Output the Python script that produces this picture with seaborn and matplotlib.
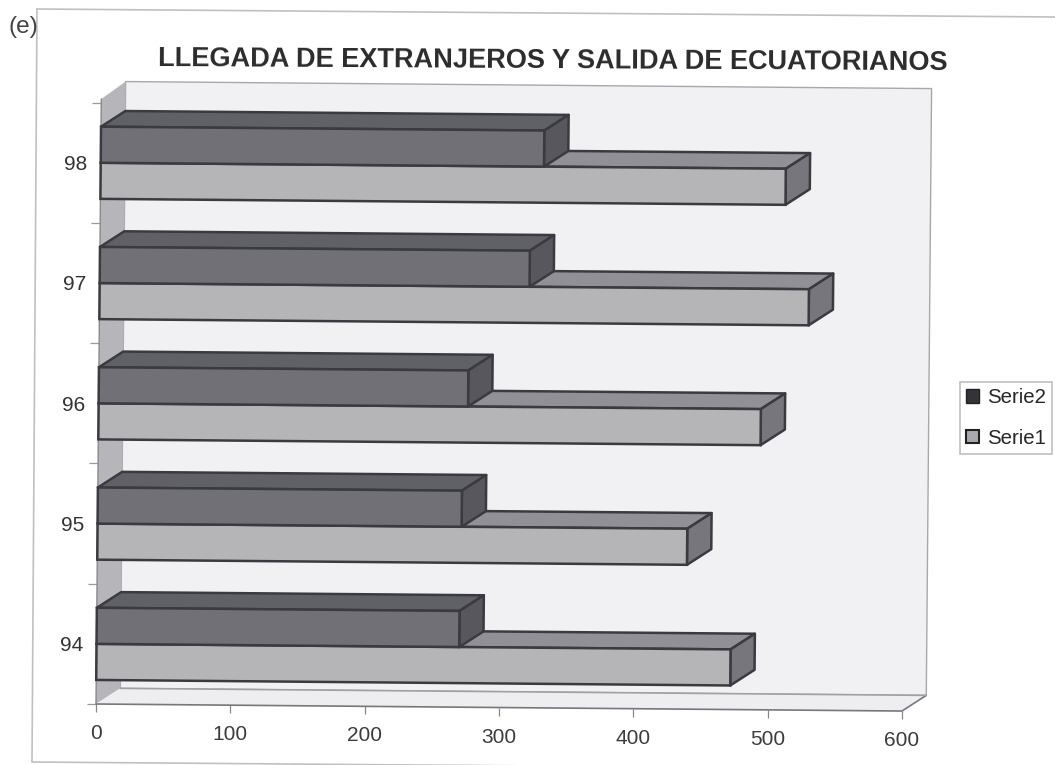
import matplotlib
matplotlib.use("Agg")
import matplotlib.pyplot as plt
import numpy as np
import pandas as pd
import seaborn as sns
from matplotlib.lines import Line2D
from matplotlib.patches import Patch, Polygon
from matplotlib.transforms import Affine2D, IdentityTransform

# data
years = ["94", "95", "96", "97", "98"]
serie1 = [472, 439, 493, 528, 510]
serie2 = [270, 271, 275, 320, 330]
x_ticks = [0, 100, 200, 300, 400, 500, 600]

W, H = 1055, 765
TILT = -0.5          # the scan is slightly rotated
DX, DY = 18, 0.132   # 3d depth, in data units

FRONT = {"Serie1": "#b4b4b9", "Serie2": "#6f6f77"}
TOP = {"Serie1": "#909096", "Serie2": "#606067"}
SIDE = {"Serie1": "#76767c", "Serie2": "#57575d"}
EDGE = "#3a3a40"

sns.set_theme(style="white")
plt.rcParams["font.family"] = ["Liberation Sans", "DejaVu Sans"]

df = pd.DataFrame({
    "year": years * 2,
    "value": serie1 + serie2,
    "serie": ["Serie1"] * len(years) + ["Serie2"] * len(years),
})

fig = plt.figure(figsize=(W / 100, H / 100), dpi=100, facecolor="white")
ax = fig.add_axes([96 / W, (H - 704) / H, 806 / W, 605 / H])
ax.patch.set_visible(False)

sns.barplot(data=df, y="year", x="value", hue="serie", order=years,
            hue_order=["Serie1", "Serie2"], orient="h", width=0.6, gap=0,
            palette=FRONT, edgecolor=EDGE, linewidth=1.8, legend=False, ax=ax)
y0, y1 = -0.5, 4.53
ax.set_xlim(0, 600)
ax.set_ylim(y0, y1)
ax.set_xlabel("")
ax.set_ylabel("")
sns.despine(ax=ax, left=True, bottom=True)

rot = Affine2D().rotate_deg_around(96, H - 704, TILT)
tr = ax.transData + rot


def face(pts, fc, ec, lw, z):
    ax.add_patch(Polygon(pts, closed=True, facecolor=fc, edgecolor=ec, linewidth=lw,
                         joinstyle="round", transform=tr, clip_on=False, zorder=z))


# walls and floor
wall_top = y1 + DY + 0.015
face([(DX, y0 + DY), (600 + DX, y0 + DY), (600 + DX, wall_top), (DX, wall_top)],
     "#f1f1f4", "#a8a8ac", 1.0, 0.5)
face([(0, y0), (DX, y0 + DY), (DX, wall_top), (0, y1)], "#b6b6ba", "none", 0, 0.6)
face([(0, y0), (600, y0), (600 + DX, y0 + DY), (DX, y0 + DY)], "#eeeef1", "none", 0, 0.6)
ax.plot([0, 600, 600 + DX], [y0, y0, y0 + DY], color="#77777c", lw=1.2,
        transform=tr, clip_on=False, zorder=0.7)
ax.plot([DX, 600 + DX], [y0 + DY, y0 + DY], color="#a0a0a5", lw=1.2,
        transform=tr, clip_on=False, zorder=0.7)

# upper bars go behind lower ones, Serie2 sits over the top of Serie1
for s, container in zip(["Serie1", "Serie2"], ax.containers):
    for i, bar in enumerate(container):
        z = 100 - i * 10 + (5 if s == "Serie2" else 0)
        x1 = bar.get_width()
        b, t = bar.get_y(), bar.get_y() + bar.get_height()
        face([(0, t), (x1, t), (x1 + DX, t + DY), (DX, t + DY)], TOP[s], EDGE, 1.8, z)
        face([(x1, b), (x1 + DX, b + DY), (x1 + DX, t + DY), (x1, t)], SIDE[s], EDGE, 1.8, z)
        bar.set_transform(tr)
        bar.set_clip_on(False)
        bar.set_zorder(z + 1)

# axes ticks
ax.set_xticks(x_ticks)
ax.set_yticks(range(len(years)), years)
ax.set_yticks(np.arange(-0.5, 5), minor=True)
ax.tick_params(axis="x", which="major", bottom=True, length=5.5, width=0.9, color="#888888",
               labelsize=15, labelcolor="#3c3c3c", pad=9)
ax.tick_params(axis="y", which="major", left=False, labelsize=15, labelcolor="#333333", pad=3.5)
ax.tick_params(axis="y", which="minor", left=True, length=6.5, width=0.9, color="#999999")
ax.plot([0, 0], [y0, y1], color="#88888c", lw=1.0, transform=tr, clip_on=False, zorder=0.8)

for axis in (ax.xaxis, ax.yaxis):
    for tick in axis.get_major_ticks() + axis.get_minor_ticks():
        tick.tick1line.set_transform(tick.tick1line.get_transform() + rot)
        tick.label1.set_transform(tick.label1.get_transform() + rot)

# legend
handles = [Patch(facecolor="#333338", edgecolor="#222222", label="Serie2"),
           Patch(facecolor="#a8a8ae", edgecolor="#222222", linewidth=1.5, label="Serie1")]
leg = ax.legend(handles=handles, loc="center left", ncol=1,
                bbox_to_anchor=(960 / W, (H - 418) / H), bbox_transform=fig.transFigure,
                fontsize=14.7, frameon=True, fancybox=False, edgecolor="#b0b0b0",
                handlelength=0.65, handleheight=0.65, handletextpad=0.35,
                labelspacing=1.05, borderpad=0.3, borderaxespad=0)
leg.get_frame().set_linewidth(1.2)
leg.set_zorder(500)

# title, panel letter and the page frame
page = IdentityTransform()
fig.text(553, H - 61, "LLEGADA DE EXTRANJEROS Y SALIDA DE ECUATORIANOS", transform=page,
         fontsize=19.5, fontweight="bold", color="#2b2b2b", ha="center", va="center",
         rotation=-0.3, rotation_mode="anchor")
fig.text(8, H - 27, "(e)", transform=page, fontsize=17.6, color="#444444", ha="left", va="center")

for xs, ys in [([37, 1055], [9, 17]), ([37, 32], [9, 762]), ([32, 1055], [762, 770])]:
    fig.add_artist(Line2D(xs, [H - v for v in ys], color="#c0c0c0", lw=1.2, transform=page))

fig.savefig("out.png", dpi=100, facecolor="white")
